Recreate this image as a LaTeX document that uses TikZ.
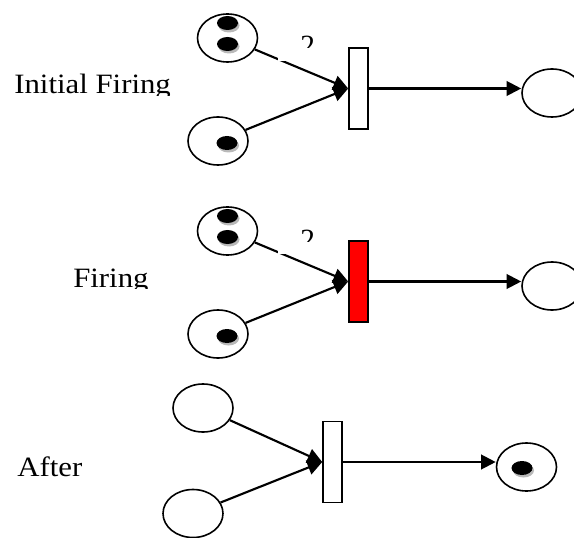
\documentclass[tikz,border=0pt]{standalone}
\usepackage{fontspec}
\setmainfont{Liberation Serif}
\usetikzlibrary{arrows.meta,shapes.geometric}

\tikzset{
  place/.style={ellipse, draw, line width=1.2pt, minimum width=45pt, minimum height=36pt, inner sep=0pt},
  trans/.style={rectangle, draw, line width=1.2pt, fill=white, minimum width=14.25pt, minimum height=60.75pt, inner sep=0pt},
  arc/.style={line width=1.6pt, -{Triangle[length=11pt,width=11pt]}},
  stagetext/.style={font=\fontsize{21}{24}\selectfont, inner sep=0pt, anchor=base west, xscale=1.1},
  weight/.style={font=\fontsize{22}{24}\selectfont, inner sep=0pt, anchor=base west},
  token/.pic={
    \fill[gray!55] (1.5,2.5) ellipse (10.5 and 7);
    \fill[black] (0,0) ellipse (10.5 and 7);
  }
}

\begin{document}
\begin{tikzpicture}[x=0.75pt, y=-0.75pt]
    \useasboundingbox (0,0) rectangle (574,538);

    % Initial firing
    \begin{scope}
      \clip (0,60) rectangle (200,95.5);
      \node[stagetext] (s1) at (14,94) {Initial Firing};
    \end{scope}
    \node[place] (p1) at (227.5,38) {};
    \node[place] (p2) at (218,141) {};
    \node[trans] (t1) at (358.5,88.5) {};
    \node[place] (p3) at (552,93) {};
    \draw[arc] (p1) -- (t1.west);
    \draw[arc] (p2) -- (t1.west);
    \draw[arc] (t1.east) -- (t1.east -| p3.west);
    \pic at (227.5,23) {token};
    \pic at (227.5,44) {token};
    \pic at (227,143) {token};
    % weight label (cut off)
    \fill[white] (278,34) rectangle (322,61);
    \begin{scope}
      \clip (278,34) rectangle (322,48);
      \node[weight] (w1) at (300,56) {2};
    \end{scope}

    % Firing
    \begin{scope}
      \clip (0,250) rectangle (200,288.5);
      \node[stagetext] (s2) at (73,287) {Firing};
    \end{scope}
    \node[place] (p4) at (227.5,231) {};
    \node[place] (p5) at (218,334) {};
    \node[trans, fill=red] (t2) at (358.5,281.5) {};
    \node[place] (p6) at (552,286) {};
    \draw[arc] (p4) -- (t2.west);
    \draw[arc] (p5) -- (t2.west);
    \draw[arc] (t2.east) -- (t2.east -| p6.west);
    \pic at (227.5,216) {token};
    \pic at (227.5,237) {token};
    \pic at (227,336) {token};
    % weight label (cut off)
    \fill[white] (278,227) rectangle (322,254);
    \begin{scope}
      \clip (278,227) rectangle (322,241);
      \node[weight] (w2) at (300,249) {2};
    \end{scope}

    % After firing
    \node[stagetext] (s3) at (17,476) {After};
    \node[place] (p7) at (203,408) {};
    \node[place] (p8) at (193,513.5) {};
    \node[trans] (t3) at (332.5,462) {};
    \node[place] (p9) at (526.5,467) {};
    \draw[arc] (p7) -- (t3.west);
    \draw[arc] (p8) -- (t3.west);
    \draw[arc] (t3.east) -- (t3.east -| p9.west);
    \pic at (522,468) {token};
\end{tikzpicture}
\end{document}
